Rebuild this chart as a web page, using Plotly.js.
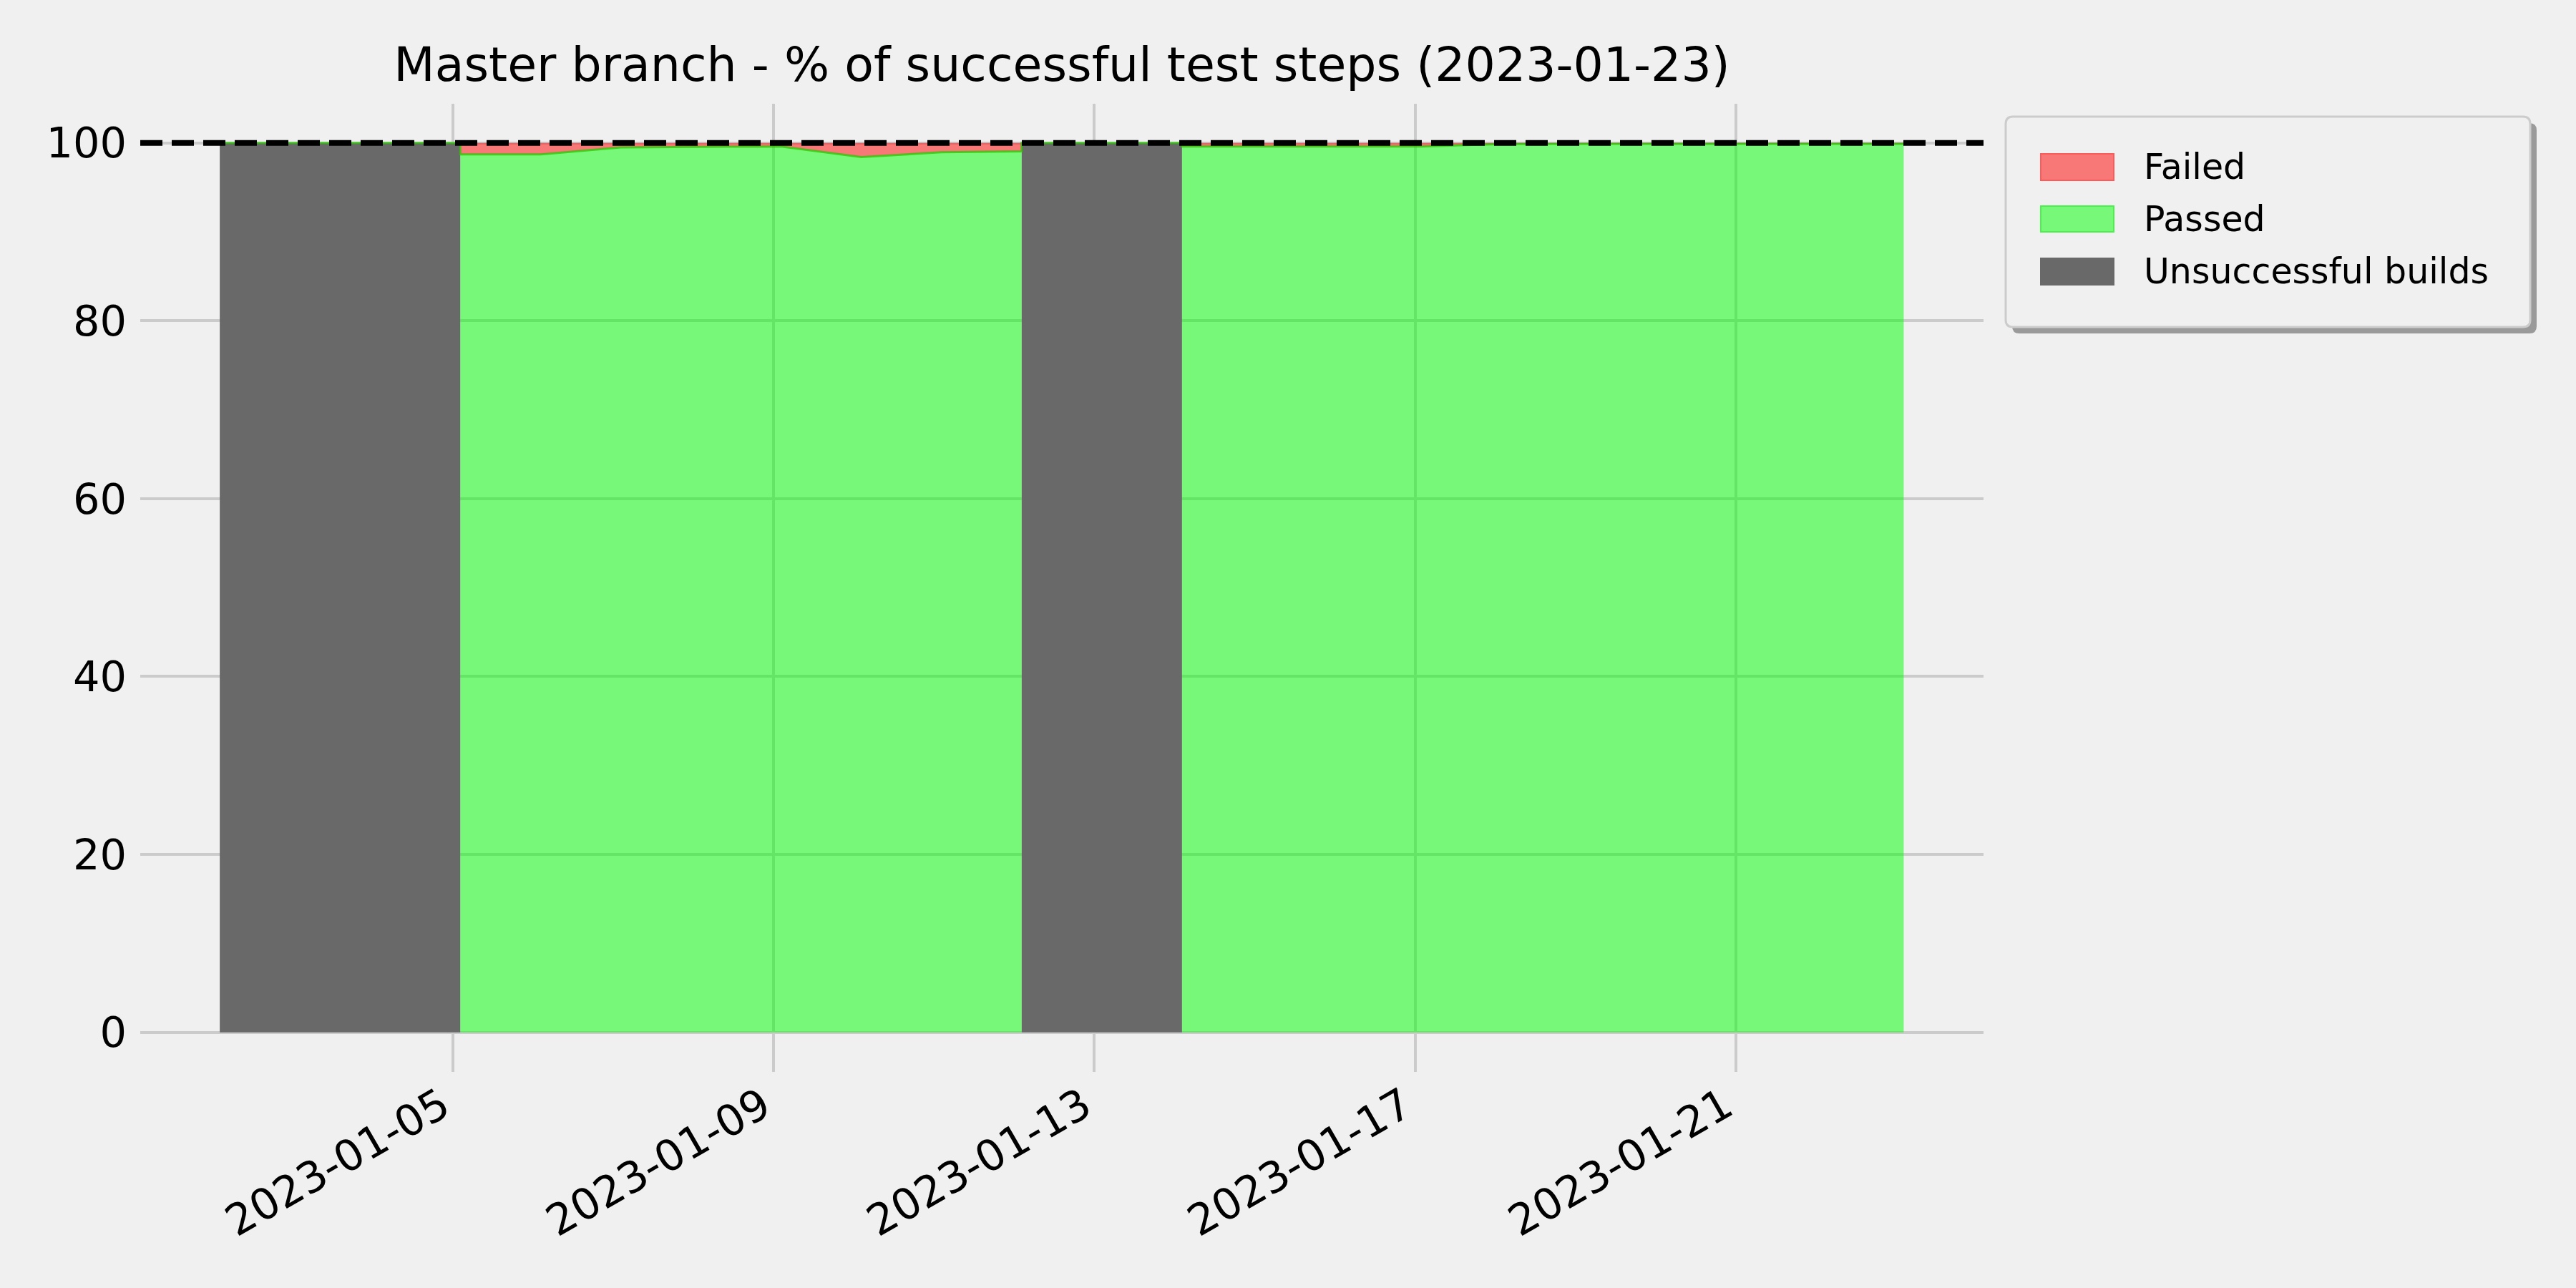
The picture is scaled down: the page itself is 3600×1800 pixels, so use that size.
<!DOCTYPE html>
<html>
<head>
<meta charset="utf-8">
<script src="https://cdn.plot.ly/plotly-3.0.1.min.js"></script>
<style>
  html, body { margin: 0; padding: 0; background: #f0f0f0; }
  #chart { width: 3600px; height: 1800px; }
</style>
</head>
<body>
<div id="chart"></div>
<script>
// ---- Data ----
const dates = [
  '2023-01-02 02:15', '2023-01-03 02:15', '2023-01-04 02:15', '2023-01-05 02:15',
  '2023-01-05 02:15', '2023-01-06 02:15', '2023-01-07 02:15', '2023-01-08 02:15',
  '2023-01-09 02:15', '2023-01-10 02:15', '2023-01-11 02:15', '2023-01-12 02:15',
  '2023-01-12 02:15', '2023-01-13 02:15', '2023-01-14 02:15',
  '2023-01-14 02:15', '2023-01-15 02:15', '2023-01-16 02:15', '2023-01-17 02:15',
  '2023-01-18 02:15', '2023-01-19 02:15', '2023-01-20 02:15', '2023-01-21 02:15',
  '2023-01-22 02:15', '2023-01-23 02:15'
];
const unsuccessful = [100, 100, 100, 100, 0, 0, 0, 0, 0, 0, 0, 0, 100, 100, 100, 0, 0, 0, 0, 0, 0, 0, 0, 0, 0];
const passed = [0, 0, 0, 0, 98.7, 98.7, 99.5, 99.55, 99.6, 98.4, 98.95, 99.05, 0, 0, 0,
                99.6, 99.6, 99.6, 99.6, 99.88, 99.9, 99.9, 99.9, 99.9, 99.9];
const failed = [0, 0, 0, 0, 1.3, 1.3, 0.5, 0.45, 0.4, 1.6, 1.05, 0.95, 0, 0, 0,
                0.4, 0.4, 0.4, 0.4, 0.12, 0.1, 0.1, 0.1, 0.1, 0.1];
const seriesNames = ['Failed', 'Passed', 'Unsuccessful builds'];
const titleText = 'Master branch - % of successful test steps (2023-01-23)';
const referenceLine = 100;

// ---- Stack the series ----
const topU = unsuccessful.slice();
const topP = unsuccessful.map((u, i) => u + passed[i]);
const topF = topP.map((p, i) => p + failed[i]);

const colors = {
  failedFill: 'rgba(255,0,0,0.5)', failedEdge: 'rgba(255,0,0,0.55)',
  passedFill: 'rgba(0,255,0,0.5)', passedEdge: 'rgba(40,200,0,0.75)',
  unsucc: '#696969'
};

const traces = [
  { x: dates, y: topU, type: 'scatter', mode: 'lines', name: seriesNames[2],
    line: { width: 0, color: colors.unsucc }, fill: 'tozeroy', fillcolor: colors.unsucc,
    showlegend: false, hoverinfo: 'x+y' },
  { x: dates, y: topP, type: 'scatter', mode: 'lines', name: seriesNames[1],
    line: { width: 3, color: colors.passedEdge }, fill: 'tonexty', fillcolor: colors.passedFill,
    showlegend: false, hoverinfo: 'x+y' },
  { x: dates, y: topF, type: 'scatter', mode: 'lines', name: seriesNames[0],
    line: { width: 0, color: colors.failedEdge }, fill: 'tonexty', fillcolor: colors.failedFill,
    showlegend: false, hoverinfo: 'x+y' }
];

// ---- Layout geometry (pixels of the 3600x1800 canvas) ----
const L = 196, R = 2772, T = 145, B = 1498;
const W = 3600, H = 1800;
const px = x => (x - L) / (R - L);
const py = y => (B - y) / (B - T);

// rounded rectangle path in paper coordinates
function roundRect(x0, y0, x1, y1, r) {
  const P = (x, y) => px(x) + ',' + py(y);
  return 'M' + P(x0 + r, y0) + ' L' + P(x1 - r, y0) + ' Q' + P(x1, y0) + ' ' + P(x1, y0 + r) +
         ' L' + P(x1, y1 - r) + ' Q' + P(x1, y1) + ' ' + P(x1 - r, y1) +
         ' L' + P(x0 + r, y1) + ' Q' + P(x0, y1) + ' ' + P(x0, y1 - r) +
         ' L' + P(x0, y0 + r) + ' Q' + P(x0, y0) + ' ' + P(x0 + r, y0) + ' Z';
}

// Custom legend (matplotlib-like)
const legBox = { x0: 2803, x1: 3536, y0: 163, y1: 457 };
const swX0 = 2852, swX1 = 2954, textX = 2994;
const rows = [
  { name: seriesNames[0], y0: 215, y1: 252, fill: '#f87878', line: '#ff5a5a' },
  { name: seriesNames[1], y0: 288, y1: 324, fill: '#78f878', line: '#4cf04c' },
  { name: seriesNames[2], y0: 361, y1: 398, fill: '#696969', line: '#696969' }
];

const shapes = [
  { type: 'line', xref: 'paper', yref: 'y', x0: 0, x1: 1, y0: referenceLine, y1: referenceLine,
    line: { color: '#000000', width: 8, dash: '31px,13px' }, layer: 'above' },
  // legend shadow
  { type: 'path', xref: 'paper', yref: 'paper',
    path: roundRect(legBox.x0 + 9, legBox.y0 + 9, legBox.x1 + 9, legBox.y1 + 9, 10),
    fillcolor: '#9a9a9a', line: { width: 0 }, layer: 'above' },
  // legend box
  { type: 'path', xref: 'paper', yref: 'paper',
    path: roundRect(legBox.x0, legBox.y0, legBox.x1, legBox.y1, 10),
    fillcolor: '#f0f0f0', line: { color: '#cccccc', width: 3 }, layer: 'above' }
];
const annotations = [];
rows.forEach(r => {
  shapes.push({ type: 'rect', xref: 'paper', yref: 'paper', x0: px(swX0), x1: px(swX1),
    y0: py(r.y1), y1: py(r.y0), fillcolor: r.fill, line: { color: r.line, width: 2 }, layer: 'above' });
  annotations.push({ xref: 'paper', yref: 'paper', x: px(textX), y: py((r.y0 + r.y1) / 2),
    xanchor: 'left', yanchor: 'middle', showarrow: false, text: r.name,
    font: { family: 'DejaVu Sans', size: 49, color: '#000000' } });
});

const layout = {
  width: W, height: H,
  paper_bgcolor: '#f0f0f0', plot_bgcolor: '#f0f0f0',
  font: { family: 'DejaVu Sans', color: '#000000', size: 58 },
  margin: { l: L, r: W - R, t: T, b: H - B, autoexpand: false },
  showlegend: false,
  title: { text: titleText, font: { family: 'DejaVu Sans', size: 66.5, color: '#000000' },
           x: 0.5, xref: 'paper', xanchor: 'center', y: 1 - 90 / H, yref: 'container', yanchor: 'middle' },
  xaxis: {
    type: 'date', range: ['2023-01-01 02:27', '2023-01-24 02:08'],
    tick0: '2023-01-05', dtick: 4 * 86400000, tickformat: '%Y-%m-%d', tickangle: -30,
    showgrid: true, gridcolor: '#cbcbcb', gridwidth: 4, zeroline: false, showline: false,
    ticks: '', ticklabelshift: -15,
    tickfont: { size: 60, family: 'DejaVu Sans', color: '#000000' }
  },
  yaxis: {
    range: [-4.45, 104.4], tick0: 0, dtick: 20,
    showgrid: true, gridcolor: '#cbcbcb', gridwidth: 4, zeroline: false, showline: false,
    ticks: '', ticklabelstandoff: 18,
    tickfont: { size: 59, family: 'DejaVu Sans', color: '#000000' }
  },
  shapes: shapes,
  annotations: annotations
};

Plotly.newPlot('chart', traces, layout, { staticPlot: true, displayModeBar: false });
</script>
</body>
</html>
